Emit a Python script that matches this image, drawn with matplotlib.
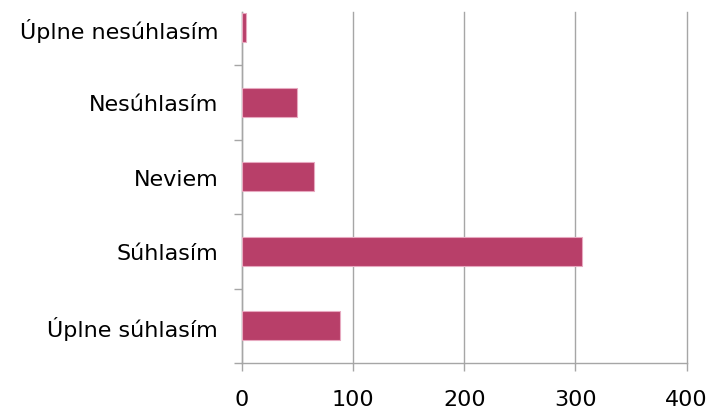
import numpy as np
import matplotlib.pyplot as plt

categories = ['Úplne súhlasím', 'Súhlasím', 'Neviem', 'Nesúhlasím', 'Úplne nesúhlasím']
counts = [88, 306, 65, 50, 4]
x_ticks = [0, 100, 200, 300, 400]

bar_color = '#B83F69'
grid_color = '#A6A6A6'

fig = plt.figure(figsize=(7.11, 4.14), dpi=100)
ax = fig.add_axes([0.34, 0.1208, 0.6258, 0.8471])

y = np.arange(len(categories))
ax.barh(y, counts, height=0.39, color=bar_color, edgecolor='#E7A9C0', linewidth=0.8, zorder=3)

ax.set_xlim(0, 400)
ax.set_ylim(-0.5, 4.21)
ax.set_xticks(x_ticks)
ax.set_xticklabels([str(t) for t in x_ticks], fontsize=16)
ax.set_yticks(y)
ax.set_yticklabels(categories, fontsize=16)
ax.set_yticks(np.arange(-0.5, len(categories) - 0.5, 1.0), minor=True)

ax.tick_params(axis='y', which='major', length=0, pad=17)
ax.tick_params(axis='y', which='minor', length=6, color=grid_color, width=1)
ax.tick_params(axis='x', length=6, color=grid_color, width=1, pad=13)

ax.grid(axis='x', color=grid_color, linewidth=1, zorder=0)
for gl in ax.xaxis.get_gridlines():
    gl.set_clip_on(False)
for side in ['top', 'right']:
    ax.spines[side].set_visible(False)
for side in ['left', 'bottom']:
    ax.spines[side].set_color(grid_color)
    ax.spines[side].set_linewidth(1)
ax.set_axisbelow(True)

fig.savefig('out.png', dpi=100)
